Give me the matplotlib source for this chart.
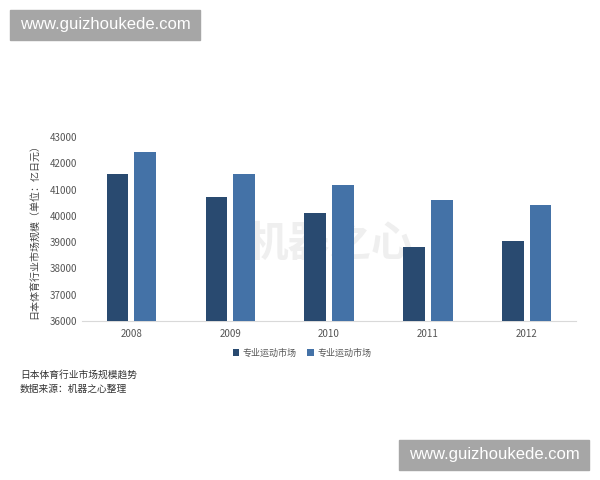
import matplotlib
matplotlib.use("Agg")
import matplotlib.pyplot as plt
import numpy as np
from matplotlib.patches import Rectangle

plt.rcParams['font.family'] = ['Noto Sans CJK SC', 'DejaVu Sans']

# data
years = ['2008', '2009', '2010', '2011', '2012']
series1 = [41600, 40700, 40100, 38800, 39050]
series2 = [42420, 41600, 41180, 40600, 40420]
labels = ['专业运动市场', '专业运动市场']
ylabel = '日本体育行业市场规模（单位：亿日元）'
caption = '日本体育行业市场规模趋势'
source = '数据来源：机器之心整理'
site = 'www.guizhoukede.com'

dark = '#294a70'
light = '#4472a7'

fig = plt.figure(figsize=(6, 4.8), dpi=100)
ax = fig.add_axes([82 / 600, 1 - 321 / 480, 494 / 600, 184 / 480])

x = np.arange(len(years))
w = 0.22
ax.bar(x - 0.14, series1, w, color=dark, label=labels[0], zorder=3)
ax.bar(x + 0.14, series2, w, color=light, label=labels[1], zorder=3)

ax.set_xlim(-0.5, len(years) - 0.5)
ax.set_ylim(36000, 43000)
ax.set_yticks(range(36000, 43001, 1000))
ax.set_xticks(x)
ax.set_xticklabels(years)
ax.tick_params(axis='both', length=0, labelsize=7, colors='#555555')
ax.tick_params(axis='x', pad=6)
for s in ['top', 'right', 'left']:
    ax.spines[s].set_visible(False)
ax.spines['bottom'].set_color('#d9d9d9')
ax.set_ylabel(ylabel, fontsize=7.2, color='#444444', labelpad=7)

# faint watermark in the middle
ax.text(0.5, 0.42, '机器之心', transform=ax.transAxes, ha='center', va='center',
        fontsize=30, color='#efefef', fontweight='bold', zorder=1)

fig.legend(loc='center', bbox_to_anchor=(302 / 600, 1 - 353 / 480), ncol=2,
           frameon=False, fontsize=6.5, handlelength=0.7, handleheight=0.7,
           columnspacing=1.2, handletextpad=0.4, labelcolor='#555555')

fig.text(20 / 600, 1 - 375 / 480, caption, fontsize=7, color='#333333', va='center')
fig.text(20 / 600, 1 - 389 / 480, source, fontsize=7, color='#333333', va='center')

# website boxes
for (x0, y0) in [(10, 10), (399, 440)]:
    fig.patches.append(Rectangle((x0 / 600, 1 - (y0 + 30) / 480), 190 / 600, 30 / 480,
                                 transform=fig.transFigure, color='#a6a6a6'))
    fig.text((x0 + 95) / 600, 1 - (y0 + 15) / 480, site, ha='center', va='center',
             fontsize=12, color='white', family=['Liberation Sans', 'DejaVu Sans'])

fig.savefig('out.png', dpi=100)
